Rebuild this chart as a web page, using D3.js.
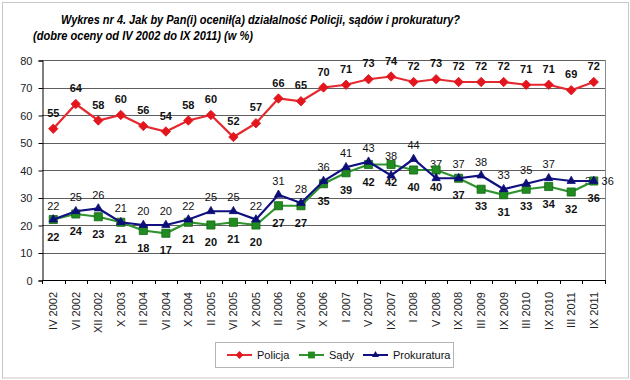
<!DOCTYPE html>
<html>
<head>
<meta charset="utf-8">
<script src="https://cdnjs.cloudflare.com/ajax/libs/d3/7.8.5/d3.min.js"></script>
<style>
  body { margin: 0; background: #fff; }
  svg { font-family: Arial, "Liberation Sans", sans-serif; }
</style>
</head>
<body>
<svg id="chart" width="630" height="380"></svg>
<script>
// dane (w %)
var categories = ["IV 2002", "VI 2002", "XII 2002", "X 2003", "II 2004", "VI 2004", "X 2004",
  "II 2005", "VI 2005", "X 2005", "II 2006", "VI 2006", "X 2006", "I 2007", "V 2007", "IX 2007",
  "I 2008", "V 2008", "IX 2008", "III 2009", "IX 2009", "III 2010", "IX 2010", "III 2011", "IX 2011"];
var policja = [55, 64, 58, 60, 56, 54, 58, 60, 52, 57, 66, 65, 70, 71, 73, 74, 72, 73, 72, 72, 72, 71, 71, 69, 72];
var sady = [22, 24, 23, 21, 18, 17, 21, 20, 21, 20, 27, 27, 35, 39, 42, 42, 40, 40, 37, 33, 31, 33, 34, 32, 36];
var prokuratura = [22, 25, 26, 21, 20, 20, 22, 25, 25, 22, 31, 28, 36, 41, 43, 38, 44, 37, 37, 38, 33, 35, 37, 36, 36];
var yTicks = [0, 10, 20, 30, 40, 50, 60, 70, 80];

var svg = d3.select('#chart');
// uwaga: "top" to zmienna okna, wiec inne nazwy
var plotL = 42, plotR = 605, plotT = 60, plotB = 280;

var x = d3.scaleBand().domain(categories).range([plotL, plotR]);
var y = d3.scaleLinear().domain([0, 80]).range([plotB, plotT]);
function cx(i) { return x(categories[i]) + x.bandwidth() / 2; }

// ramka wykresu
svg.append('rect')
  .attr('x', 2.5).attr('y', 2.5).attr('width', 626).attr('height', 375.5)
  .attr('fill', '#fff').attr('stroke', '#c8c8c8');

// tytul
svg.append('text')
  .attr('x', 61).attr('y', 24)
  .attr('textLength', 399).attr('lengthAdjust', 'spacingAndGlyphs')
  .style('font-family', '"Liberation Sans Narrow", "Arial Narrow", Arial, sans-serif')
  .style('font-size', '13px').style('font-weight', 'bold').style('font-style', 'italic')
  .text('Wykres nr 4. Jak by Pan(i) ocenił(a) działalność Policji, sądów i prokuratury?');
svg.append('text')
  .attr('x', 33).attr('y', 40)
  .attr('textLength', 220).attr('lengthAdjust', 'spacingAndGlyphs')
  .style('font-family', '"Liberation Sans Narrow", "Arial Narrow", Arial, sans-serif')
  .style('font-size', '13px').style('font-weight', 'bold').style('font-style', 'italic')
  .text('(dobre oceny od IV 2002 do IX 2011)  (w %)');

// siatka
svg.append('g').selectAll('line')
  .data(yTicks.filter(function(d) { return d > 0; }))
  .enter().append('line')
    .attr('x1', plotL).attr('x2', plotR)
    .attr('y1', function(d) { return Math.round(y(d)) + 0.5; })
    .attr('y2', function(d) { return Math.round(y(d)) + 0.5; })
    .attr('stroke', '#5e5e5e').attr('stroke-width', 1);

svg.append('line')
  .attr('x1', plotR + 0.5).attr('x2', plotR + 0.5).attr('y1', plotT).attr('y2', plotB)
  .attr('stroke', '#8a8a8a');

// os Y
var yAxis = svg.append('g')
  .attr('transform', 'translate(' + (plotL + 0.5) + ',0.5)')
  .call(d3.axisLeft(y).tickValues(yTicks).tickSize(4).tickPadding(6));
yAxis.select('.domain').attr('stroke', '#000');
yAxis.selectAll('.tick line').attr('stroke', '#000');
yAxis.selectAll('text').style('font-size', '11px').attr('fill', '#222');

// os X
svg.append('line')
  .attr('x1', plotL).attr('x2', plotR).attr('y1', plotB + 0.5).attr('y2', plotB + 0.5)
  .attr('stroke', '#000');
svg.append('g').selectAll('line')
  .data(categories.concat(['end']))
  .enter().append('line')
    .attr('x1', function(d, i) { return Math.round(plotL + i * x.bandwidth()) + 0.5; })
    .attr('x2', function(d, i) { return Math.round(plotL + i * x.bandwidth()) + 0.5; })
    .attr('y1', plotB).attr('y2', plotB + 4)
    .attr('stroke', '#000');
svg.append('g').selectAll('text')
  .data(categories)
  .enter().append('text')
    .attr('transform', function(d, i) { return 'translate(' + cx(i) + ',292) rotate(-90)'; })
    .attr('dy', '0.35em')
    .attr('text-anchor', 'end')
    .style('font-size', '11px').attr('fill', '#222')
    .text(function(d) { return d; });

// serie
var series = [
  { name: 'Policja', values: policja, color: '#e3161e', line: '#e42a30', marker: 'diamond', dy: -12, bold: true },
  { name: 'Sądy', values: sady, color: '#218a21', line: '#2f942f', marker: 'square', dy: 21, bold: true },
  { name: 'Prokuratura', values: prokuratura, color: '#0d0d78', line: '#101080', marker: 'triangle', dy: -10, bold: false }
];

// przesuniete etykiety (recznie jak w oryginale)
var labelShift = {
  'Prokuratura:15': [0, -16],
  'Prokuratura:23': [20, 4],
  'Prokuratura:24': [14, 4]
};

function markerPath(type, big) {
  var k = big ? 1 : 0.7;
  if (type === 'diamond') return d3.symbol().type(d3.symbolSquare).size(44 * k)();
  if (type === 'square') return d3.symbol().type(d3.symbolSquare).size(66 * k)();
  return d3.symbol().type(d3.symbolTriangle).size(30 * k)();
}

var labelLayer = svg.append('g');
var seriesLayer = svg.append('g');

series.forEach(function(s) {
  labelLayer.append('g').selectAll('text')
    .data(s.values)
    .enter().append('text')
      .attr('x', function(d, i) {
        var sh = labelShift[s.name + ':' + i];
        return cx(i) + (sh ? sh[0] : 0);
      })
      .attr('y', function(d, i) {
        var sh = labelShift[s.name + ':' + i];
        return y(d) + (sh ? sh[1] : s.dy);
      })
      .attr('text-anchor', 'middle')
      .style('font-size', '11px')
      .style('font-weight', s.bold ? 'bold' : 'normal')
      .attr('fill', '#111')
      .text(function(d) { return d; });

  var line = d3.line()
    .x(function(d, i) { return cx(i); })
    .y(function(d) { return y(d); });

  seriesLayer.append('path')
    .datum(s.values)
    .attr('d', line)
    .attr('fill', 'none')
    .attr('stroke', s.line)
    .attr('stroke-width', 2.2);

  seriesLayer.append('g').selectAll('path')
    .data(s.values)
    .enter().append('path')
      .attr('d', markerPath(s.marker, true))
      .attr('transform', function(d, i) {
        return 'translate(' + cx(i) + ',' + y(d) + ')' + (s.marker === 'diamond' ? ' rotate(45)' : '');
      })
      .attr('fill', s.color)
      .attr('stroke', s.marker === 'square' ? '#156915' : s.color)
      .attr('stroke-width', 0.8);
});

// legenda
var legend = svg.append('g');
legend.append('rect')
  .attr('x', 215.5).attr('y', 342.5).attr('width', 238).attr('height', 25)
  .attr('fill', '#fff').attr('stroke', '#b4b4b4');
var legendX = [227, 299, 363];
series.forEach(function(s, i) {
  var g = legend.append('g').attr('transform', 'translate(' + legendX[i] + ',355)');
  g.append('line').attr('x1', 0).attr('x2', 25).attr('y1', 0).attr('y2', 0)
    .attr('stroke', s.line).attr('stroke-width', 2);
  g.append('path')
    .attr('d', markerPath(s.marker, false))
    .attr('transform', 'translate(12.5,0)' + (s.marker === 'diamond' ? ' rotate(45)' : ''))
    .attr('fill', s.color);
  g.append('text').attr('x', 30).attr('y', 4)
    .style('font-size', '11px').attr('fill', '#111')
    .text(s.name);
});
</script>
</body>
</html>
